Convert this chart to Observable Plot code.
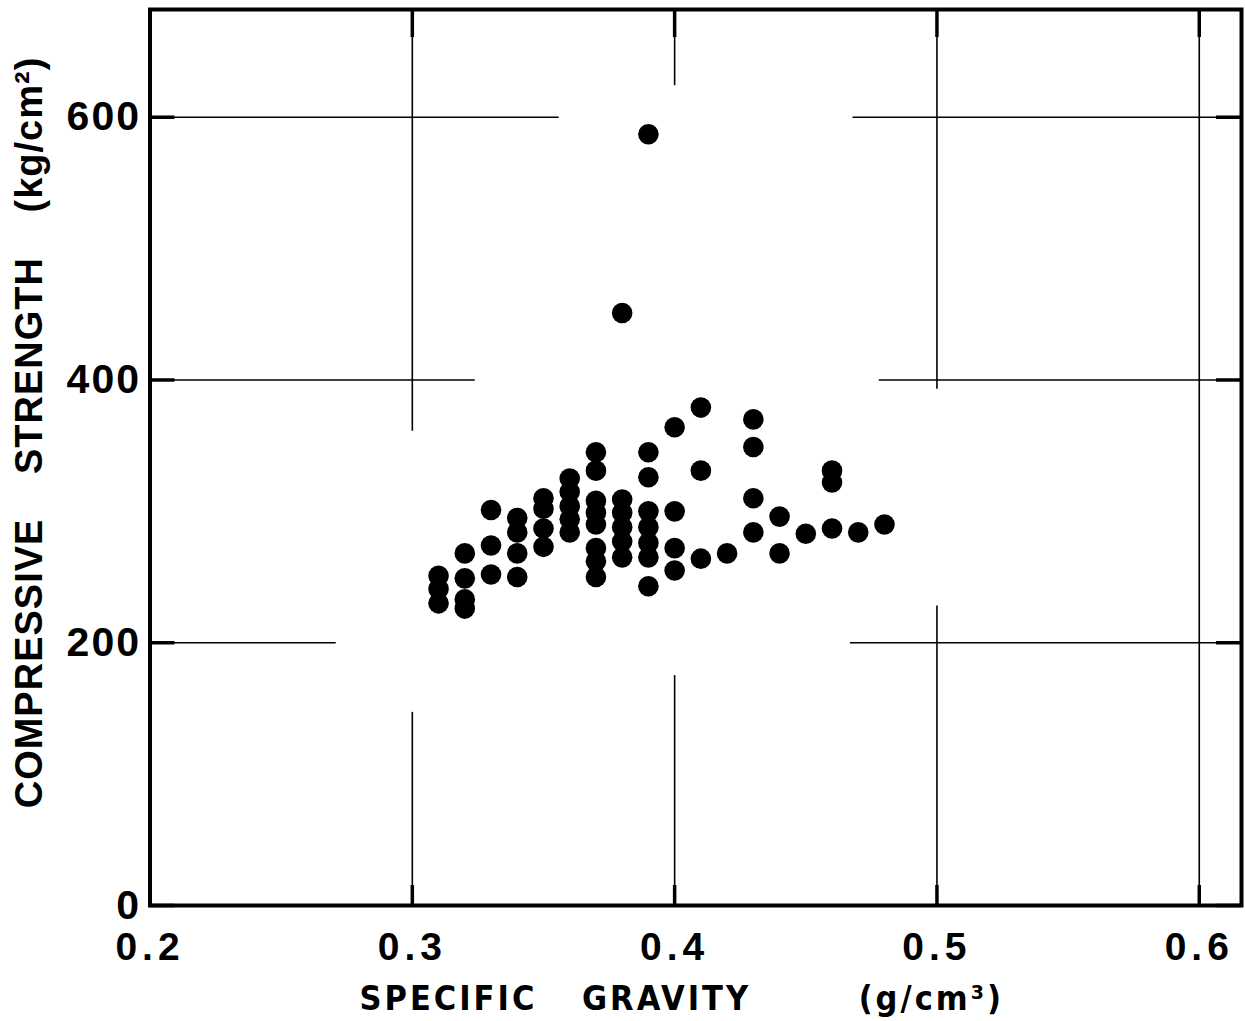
<!DOCTYPE html>
<html><head><meta charset="utf-8">
<script src="https://cdn.jsdelivr.net/npm/d3@7"></script>
<script src="https://cdn.jsdelivr.net/npm/@observablehq/plot@0.6"></script>
<style>
html,body{margin:0;padding:0;background:#fff;}
#chart svg{display:block;}
g[aria-label="x-axis tick label"] text{letter-spacing:5px;}
g[aria-label="y-axis tick label"] text{letter-spacing:2px;}
</style></head><body><div id="chart"></div>
<script>
// ---- data ----
const gravity = [
  0.31,0.31,0.31,
  0.32,0.32,0.32,0.32,
  0.33,0.33,0.33,
  0.34,0.34,0.34,0.34,
  0.35,0.35,0.35,0.35,
  0.36,0.36,0.36,0.36,0.36,
  0.37,0.37,0.37,0.37,0.37,0.37,0.37,0.37,
  0.38,0.38,0.38,0.38,0.38,0.38,
  0.39,0.39,0.39,0.39,0.39,0.39,0.39,0.39,
  0.40,0.40,0.40,0.40,
  0.41,0.41,0.41,
  0.42,
  0.43,0.43,0.43,0.43,
  0.44,0.44,
  0.45,
  0.46,0.46,0.46,
  0.47,
  0.48
];
const strength = [
  251,241,230,
  268,249,233,226,
  301,274,252,
  295,284,268,250,
  310,302,287,273,
  325,315,304,294,284,
  345,331,308,299,290,272,262,250,
  451,309,299,288,277,265,
  587,345,326,300,288,276,265,243,
  364,300,272,255,
  379,331,264,
  268,
  370,349,310,284,
  296,268,
  283,
  331,322,287,
  284,
  290
];
const xTicks = [0.2, 0.3, 0.4, 0.5, 0.6];
const yTicks = [0, 200, 400, 600];
const xTitle = "SPECIFIC GRAVITY \u2002 (g/cm\u00B3)";
const yTitle = "COMPRESSIVE STRENGTH (kg/cm\u00B2)";
const xDomain = [0.2, 0.6161];
const yDomain = [0, 682];
// broken grid lines (data units)
const vGridX  = [0.3, 0.3, 0.4, 0.4, 0.5, 0.5, 0.6];
const vGridY1 = [0, 361, 0, 624, 0, 393, 0];
const vGridY2 = [147, 682, 175, 682, 228, 682, 682];
const hGridY  = [200, 200, 400, 400, 600, 600];
const hGridX1 = [0.2, 0.467, 0.2, 0.478, 0.2, 0.468];
const hGridX2 = [0.271, 0.6161, 0.324, 0.6161, 0.356, 0.6161];

const points = gravity.map((g, i) => ({g, s: strength[i]}));
const vGrid = vGridX.map((x, i) => ({x, y1: vGridY1[i], y2: vGridY2[i]}));
const hGrid = hGridY.map((y, i) => ({y, x1: hGridX1[i], x2: hGridX2[i]}));

const font = "'Liberation Sans', Arial, sans-serif";
const narrow = "'Liberation Sans Narrow', 'DejaVu Sans Condensed', sans-serif";

const W = 1245, H = 1021, ML = 149.5, MR = 4, MT = 9, MB = 116;
const FW = W - ML - MR, FH = H - MT - MB;

const chart = Plot.plot({
  width: W, height: H,
  marginLeft: ML, marginRight: MR, marginTop: MT, marginBottom: MB,
  x: {domain: xDomain, axis: null},
  y: {domain: yDomain, axis: null},
  style: {background: "white", color: "black", fontFamily: font},
  marks: [
    Plot.ruleX(vGrid, {x: "x", y1: "y1", y2: "y2", stroke: "black", strokeWidth: 1.6}),
    Plot.ruleY(hGrid, {y: "y", x1: "x1", x2: "x2", stroke: "black", strokeWidth: 1.6}),
    // inward tick marks on all four sides
    Plot.tickX(xTicks, {x: d => d, insetTop: FH - 20, stroke: "black", strokeWidth: 3.5}),
    Plot.tickX(xTicks, {x: d => d, insetBottom: FH - 28, stroke: "black", strokeWidth: 3.5}),
    Plot.tickY(yTicks, {y: d => d, insetRight: FW - 25, stroke: "black", strokeWidth: 3.5}),
    Plot.tickY(yTicks, {y: d => d, insetLeft: FW - 25, stroke: "black", strokeWidth: 3.5}),
    Plot.axisX(xTicks, {anchor: "bottom", tickSize: 0, tickPadding: 27, fontSize: 39, fontWeight: "bold",
      tickFormat: d3.format(".1f"), label: null}),
    Plot.axisY(yTicks, {anchor: "left", tickSize: 0, tickPadding: 9, fontSize: 41, fontWeight: "bold",
      tickFormat: d3.format("d"), label: null}),
    Plot.frame({stroke: "black", strokeWidth: 4}),
    Plot.dot(points, {x: "g", y: "s", r: 10.3, fill: "black", stroke: "none"}),
    Plot.text([yTitle], {text: d => d, frameAnchor: "left", rotate: -90, dx: -120.5, dy: -25,
      textAnchor: "middle", lineAnchor: "middle",
      fontSize: 38, fontWeight: "bold", fontFamily: font}),
    Plot.text([xTitle], {text: d => d, frameAnchor: "bottom", dx: -14, dy: 94,
      textAnchor: "middle", lineAnchor: "middle",
      fontSize: 34, fontWeight: "bold", fontFamily: narrow})
  ]
});
// letter / word spacing of the two titles
d3.select(chart).selectAll("text").each(function() {
  const t = this.textContent;
  if (t === yTitle) d3.select(this).style("letter-spacing", "1px").style("word-spacing", "33px");
  if (t === xTitle) d3.select(this).style("letter-spacing", "3px").style("word-spacing", "31px");
});
document.getElementById("chart").append(chart);
</script>
</body></html>
